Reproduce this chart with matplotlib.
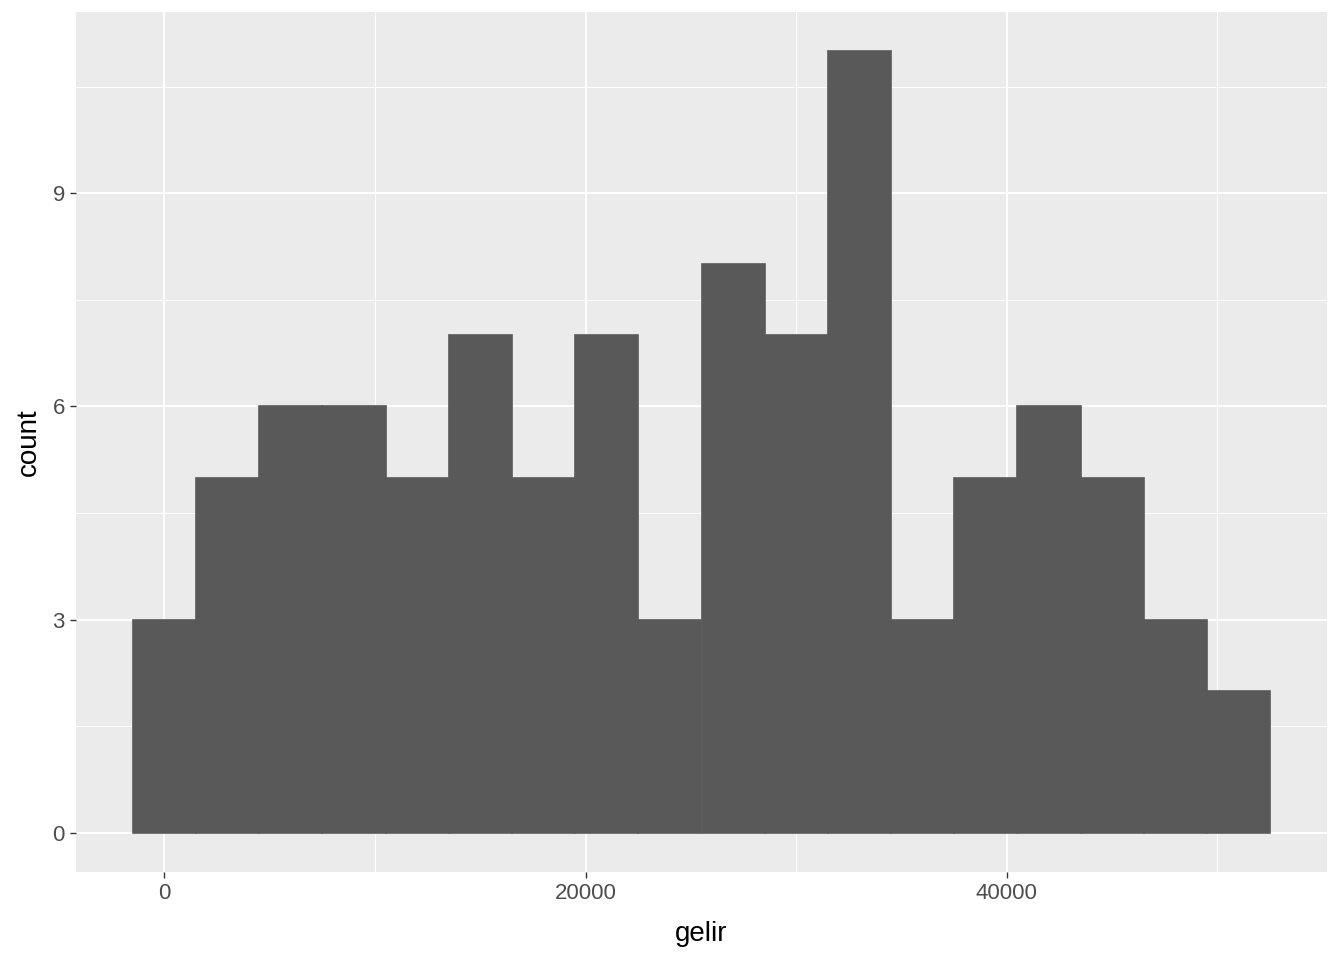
import matplotlib
matplotlib.use("Agg")
import matplotlib.pyplot as plt
from matplotlib.ticker import MultipleLocator

plt.rcParams["font.family"] = ["Liberation Sans", "DejaVu Sans"]

# histogram of gelir, binwidth 3000
bin_centers = [0, 3000, 6000, 9000, 12000, 15000, 18000, 21000, 24000,
               27000, 30000, 33000, 36000, 39000, 42000, 45000, 48000, 51000]
counts = [3, 5, 6, 6, 5, 7, 5, 7, 3, 8, 7, 11, 3, 5, 6, 5, 3, 2]
BIN_WIDTH = 3000
x_ticks = [0, 20000, 40000]
y_ticks = [0, 3, 6, 9]

BG = "#EBEBEB"
BAR = "#595959"
TXT = "#4D4D4D"

fig = plt.figure(figsize=(13.44, 9.6), dpi=100)
ax = fig.add_axes([76 / 1344, 1 - 872 / 960, (1327 - 76) / 1344, (872 - 12) / 960])
ax.set_facecolor(BG)

# thin same-colour edge hides the hairline seams between adjacent bins
ax.bar(bin_centers, counts, width=BIN_WIDTH, color=BAR, edgecolor=BAR,
       linewidth=1.2, zorder=3)

ax.set_xlim(-4200, 55200)
ax.set_ylim(-0.55, 11.55)
ax.set_xticks(x_ticks, [str(t) for t in x_ticks])
ax.set_yticks(y_ticks, [str(t) for t in y_ticks])
ax.xaxis.set_minor_locator(MultipleLocator(10000))
ax.yaxis.set_minor_locator(MultipleLocator(1.5))

ax.grid(which="major", color="white", linewidth=1.4, zorder=1)
ax.grid(which="minor", color="white", linewidth=0.7, zorder=1)
ax.set_axisbelow(True)
for s in ax.spines.values():
    s.set_visible(False)

ax.tick_params(which="major", length=4, width=1, color="#333333",
               labelsize=16, labelcolor=TXT, pad=4)
ax.tick_params(which="minor", length=0)

ax.set_xlabel("gelir", fontsize=20, color="black", labelpad=12)
ax.set_ylabel("count", fontsize=20, color="black", labelpad=8)

fig.savefig("out.png", dpi=100, facecolor="white")
